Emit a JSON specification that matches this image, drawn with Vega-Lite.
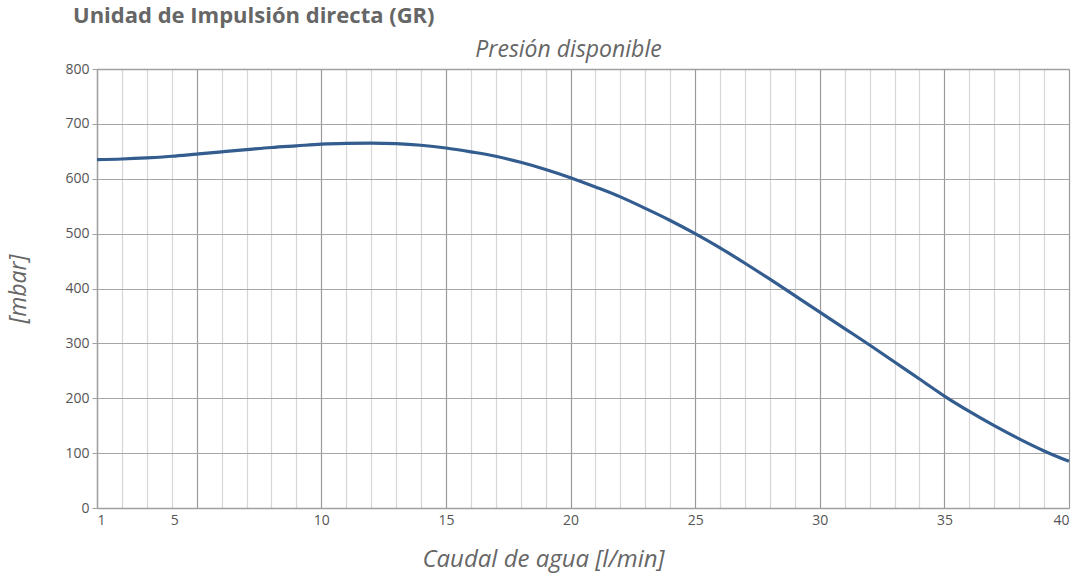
{
  "$schema": "https://vega.github.io/schema/vega-lite/v6.json",
  "autosize": {"type": "none"},
  "padding": {"left": 97, "top": 69, "right": 16, "bottom": 66},
  "width": 972,
  "height": 439,
  "title": {
    "text": "Unidad de Impulsión directa (GR)",
    "anchor": "start",
    "frame": "group",
    "font": "Open Sans",
    "fontSize": 22,
    "fontWeight": "bold",
    "color": "#666666",
    "baseline": "alphabetic",
    "offset": 0,
    "dx": -24,
    "dy": 7
  },
  "data": {
    "values": [
      {"caudal": 1, "presion": 635},
      {"caudal": 2, "presion": 636},
      {"caudal": 3, "presion": 638},
      {"caudal": 4, "presion": 641},
      {"caudal": 5, "presion": 645},
      {"caudal": 6, "presion": 649},
      {"caudal": 7, "presion": 653},
      {"caudal": 8, "presion": 657},
      {"caudal": 9, "presion": 660},
      {"caudal": 10, "presion": 663},
      {"caudal": 11, "presion": 664.5},
      {"caudal": 12, "presion": 665},
      {"caudal": 13, "presion": 664},
      {"caudal": 14, "presion": 661},
      {"caudal": 15, "presion": 656},
      {"caudal": 16, "presion": 649},
      {"caudal": 17, "presion": 641},
      {"caudal": 18, "presion": 630},
      {"caudal": 19, "presion": 617},
      {"caudal": 20, "presion": 602},
      {"caudal": 21, "presion": 585},
      {"caudal": 22, "presion": 567},
      {"caudal": 23, "presion": 546},
      {"caudal": 24, "presion": 524},
      {"caudal": 25, "presion": 500},
      {"caudal": 26, "presion": 474},
      {"caudal": 27, "presion": 446},
      {"caudal": 28, "presion": 417},
      {"caudal": 29, "presion": 387},
      {"caudal": 30, "presion": 357},
      {"caudal": 31, "presion": 327},
      {"caudal": 32, "presion": 297},
      {"caudal": 33, "presion": 266},
      {"caudal": 34, "presion": 235},
      {"caudal": 35, "presion": 204},
      {"caudal": 36, "presion": 176},
      {"caudal": 37, "presion": 150},
      {"caudal": 38, "presion": 126},
      {"caudal": 39, "presion": 104},
      {"caudal": 40, "presion": 85}
    ]
  },
  "layer": [
    {
      "mark": {"type": "line", "interpolate": "monotone", "color": "#335c8f", "strokeWidth": 3.2},
      "encoding": {
        "x": {
          "field": "caudal",
          "type": "quantitative",
          "scale": {"domain": [1, 40], "nice": false, "zero": false},
          "axis": {
            "orient": "bottom",
            "values": [1, 4.1, 10, 15, 20, 25, 30, 35, 40],
            "labelExpr": "datum.value > 3 && datum.value < 5 ? '5' : format(datum.value, 'd')",
            "grid": false,
            "ticks": false,
            "domain": true,
            "domainColor": "#a0a0a0",
            "domainWidth": 1.5,
            "labelFont": "Open Sans",
            "labelFontSize": 14,
            "labelColor": "#555555",
            "labelPadding": 5,
            "title": "Caudal de agua [l/min]",
            "titleFont": "Open Sans",
            "titleFontSize": 24,
            "titleFontStyle": "italic",
            "titleFontWeight": "normal",
            "titleColor": "#666666",
            "titleBaseline": "alphabetic",
            "titleX": 446,
            "titleY": 58
          }
        },
        "y": {
          "field": "presion",
          "type": "quantitative",
          "scale": {"domain": [0, 800], "nice": false},
          "axis": {
            "values": [0, 100, 200, 300, 400, 500, 600, 700, 800],
            "grid": true,
            "gridColor": "#a6a6a6",
            "gridWidth": 1.2,
            "domain": true,
            "domainColor": "#a0a0a0",
            "domainWidth": 1.5,
            "ticks": true,
            "tickColor": "#a0a0a0",
            "tickSize": 5,
            "labelFont": "Open Sans",
            "labelFontSize": 14,
            "labelColor": "#555555",
            "labelPadding": 3,
            "title": "[mbar]",
            "titleFont": "Open Sans",
            "titleFontSize": 23,
            "titleFontStyle": "italic",
            "titleFontWeight": "normal",
            "titleColor": "#666666",
            "titleBaseline": "alphabetic",
            "titleX": -72
          }
        }
      }
    },
    {
      "mark": {"type": "line", "opacity": 0},
      "encoding": {
        "x": {
          "field": "caudal",
          "type": "quantitative",
          "scale": {"domain": [1, 40], "nice": false, "zero": false},
          "axis": {
            "orient": "top",
            "values": [1,2,3,4,5,6,7,8,9,10,11,12,13,14,15,16,17,18,19,20,21,22,23,24,25,26,27,28,29,30,31,32,33,34,35,36,37,38,39,40],
            "grid": true,
            "gridColor": {"condition": {"test": "datum.value % 5 === 0", "value": "#9a9a9a"}, "value": "#d6d6d6"},
            "gridWidth": 1.2,
            "ticks": false,
            "labels": false,
            "domain": true,
            "domainColor": "#a0a0a0",
            "domainWidth": 1.5,
            "title": "Presión disponible",
            "titleFont": "Open Sans",
            "titleFontSize": 23,
            "titleFontStyle": "italic",
            "titleFontWeight": "normal",
            "titleColor": "#666666",
            "titleBaseline": "alphabetic",
            "titleX": 471,
            "titleY": -13
          }
        },
        "y": {
          "field": "presion",
          "type": "quantitative",
          "scale": {"domain": [0, 800], "nice": false}
        }
      }
    }
  ],
  "resolve": {"axis": {"x": "independent"}},
  "config": {"view": {"stroke": null}, "font": "Open Sans"}
}
